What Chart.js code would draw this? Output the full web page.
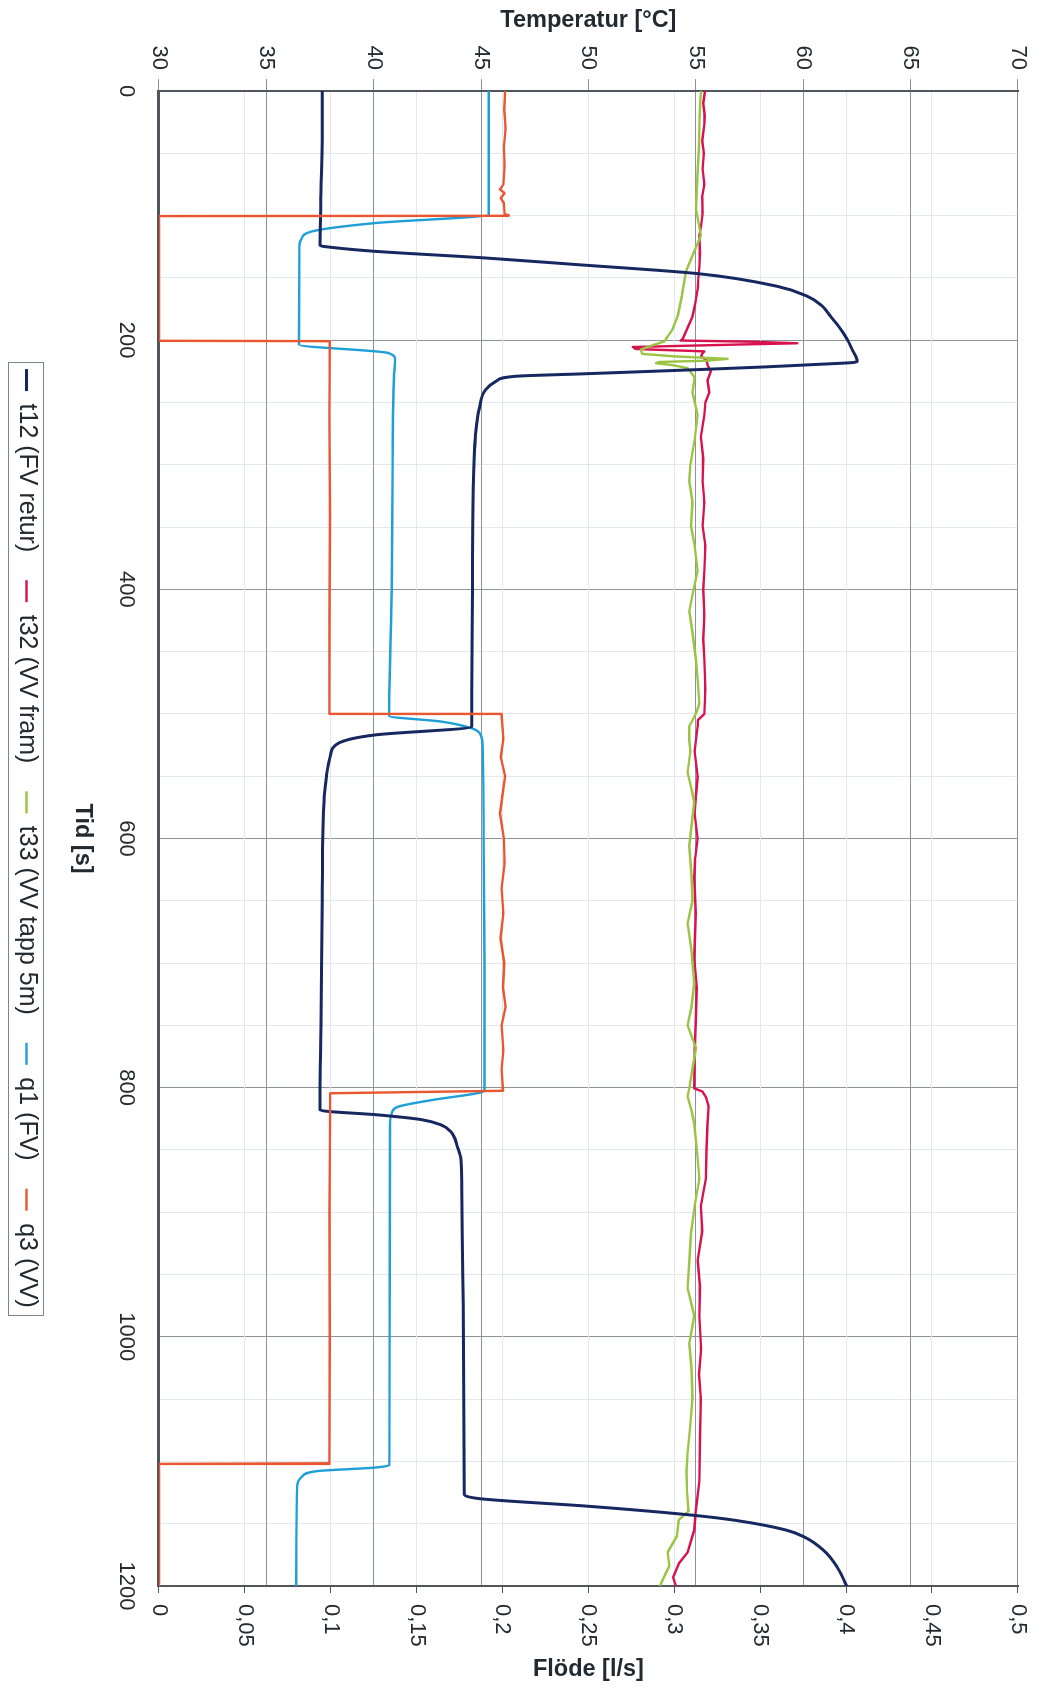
<!DOCTYPE html>
<html>
<head>
<meta charset="utf-8">
<title>Temperatur och flöde</title>
<script src="https://cdn.jsdelivr.net/npm/chart.js@4.4.1/dist/chart.umd.min.js"></script>
<style>
  html, body { margin: 0; padding: 0; background: #ffffff; overflow: hidden; }
  /* landscape chart turned a quarter turn clockwise onto the portrait page */
  #wrap {
    position: absolute; left: 0; top: 0;
    width: 1688px; height: 1042px;
    transform-origin: 0 0;
    transform: translateX(1042px) rotate(90deg);
  }
  canvas { display: block; }
</style>
</head>
<body>
<div id="wrap"><canvas id="c" width="1688" height="1042"></canvas></div>
<script>
// ---- axis ticks ----
const timeTickValues = [0, 200, 400, 600, 800, 1000, 1200];
const timeTickLabels = ['0', '200', '400', '600', '800', '1000', '1200'];
const minorTimeValues = [50, 100, 150, 250, 300, 350, 450, 500, 550, 650, 700, 750, 850, 900, 950, 1050, 1100, 1150];
const tempTickValues = [30, 35, 40, 45, 50, 55, 60, 65, 70];
const tempTickLabels = ['30', '35', '40', '45', '50', '55', '60', '65', '70'];
const flowTickValues = [0, 0.05, 0.1, 0.15, 0.2, 0.25, 0.3, 0.35, 0.4, 0.45, 0.5];
const flowTickLabels = ['0', '0,05', '0,1', '0,15', '0,2', '0,25', '0,3', '0,35', '0,4', '0,45', '0,5'];

const timeTitle = 'Tid [s]';
const tempTitle = 'Temperatur [°C]';
const flowTitle = 'Flöde [l/s]';

const seriesLabels = ['t12 (FV retur)', 't32 (VV fram)', 't33 (VV tapp 5m)', 'q1 (FV)', 'q3 (VV)'];

// ---- measured series: [tid s, värde] ----
// t12 FV retur, °C
const t12 = [[0,37.6],[40,37.6],[80,37.55],[124,37.5],[126,38.3],[128.7,40.07],[134,45.18],[139.4,49.5],
  [146.6,55.1],[156.8,58.8],[164.8,60.2],[172,60.85],[180.9,61.28],[190,61.7],[199.6,62.06],[208,62.3],
  [217,62.52],[218,62.3],[219.5,60.6],[221.5,58.2],[223.7,55.0],[227,49.8],[229,46.6],[233,45.7],
  [240,45.2],[255,44.92],[272,44.77],[312,44.65],[402,44.6],[483,44.57],[510.2,44.57],[516.9,40.05],
  [523.6,38.35],[534.3,37.97],[550,37.8],[566,37.7],[650,37.6],[750,37.55],[818,37.5],[822,40.3],
  [825.6,42.2],[830,43.15],[835.5,43.6],[847.5,43.9],[858,44.07],[880,44.1],[950,44.15],[1050,44.2],
  [1126.7,44.22],[1130,44.98],[1136,50.0],[1143.4,54.98],[1147.4,56.88],[1155,59.19],[1160.8,60.07],
  [1171.5,60.96],[1185,61.59],[1200,62.03]];

// t32 VV fram, °C
const t32 = [[0,55.43],[10,55.35],[20,55.42],[26.6,55.4],[40,55.3],[50,55.38],[62.5,55.32],[75,55.4],
  [85,55.3],[98.3,55.32],[108,55.25],[116,55.17],[130,55.2],[141,55.17],[150,55.12],[159,55.09],
  [170,54.98],[180.8,54.85],[190,54.62],[198.7,54.4],[200.3,54.3],[201.2,57.5],[202.5,59.73],
  [203.5,57.0],[205.5,52.07],[207.1,52.2],[209,55.4],[211,55.3],[213,55.25],[216,55.5],[220,55.55],
  [225,55.7],[232,55.55],[241.8,55.63],[250,55.45],[260,55.4],[277.5,55.24],[295,55.35],[313.5,55.32],
  [330,55.4],[349,55.32],[365,55.45],[385,55.4],[400,55.35],[421,55.4],[440,55.35],[456.6,55.4],
  [480,55.45],[500,55.4],[505,55.1],[510,55.09],[530,54.95],[550,55.09],[565,55.01],[580,54.95],
  [600,55.09],[615,54.98],[631,54.93],[660,55.0],[697,54.93],[720,55.05],[741,55.01],[770,54.95],
  [800.6,54.93],[803,55.3],[807.3,55.47],[815,55.6],[829,55.55],[850,55.5],[873,55.47],[895,55.24],
  [915,55.3],[939,55.09],[960,55.2],[983.5,55.17],[1010,55.25],[1030,55.15],[1049.6,55.24],
  [1080,55.2],[1115.7,55.17],[1140,55.0],[1155,54.93],[1173,54.62],[1182,54.21],[1193,53.95],[1200,54.07]];

// t33 VV tapp 5m, °C
const t33 = [[0,55.24],[13,55.2],[26.6,55.17],[45,55.15],[62.5,55.09],[80,55.05],[94.8,55.01],
  [105,55.12],[116,55.24],[130,54.9],[145,54.54],[165,54.35],[180.8,54.16],[192,53.9],[197,53.69],
  [201,53.54],[204,53.0],[207.6,52.44],[211,52.5],[213,54.0],[215,56.48],[216.5,55.5],[217.5,53.3],
  [218.5,53.15],[220,53.9],[222.4,54.62],[230,54.95],[242,54.85],[260,55.09],[280,54.95],[300,54.75],
  [313,54.7],[330,54.85],[349,54.78],[365,54.95],[385,55.09],[400,54.9],[417,54.7],[435,54.85],
  [457,55.01],[475,55.1],[492,55.17],[500,55.0],[510,54.7],[521,54.7],[530,54.75],[547,54.62],
  [560,54.8],[571,54.93],[590,54.8],[606,54.7],[630,54.8],[650,54.85],[668,54.62],[690,54.8],
  [716,54.93],[735,54.8],[750,54.62],[768,55.01],[785,54.85],[800,54.7],[807,54.62],[818,54.8],
  [829,54.93],[850,55.05],[873,55.17],[895,54.95],[917,54.78],[940,54.7],[961,54.62],[983,54.93],
  [1005,54.7],[1025,54.8],[1049,54.85],[1070,54.75],[1093,54.62],[1108,54.57],[1125,54.6],[1140,54.66],
  [1147,54.21],[1160,54.12],[1173,53.69],[1184,53.77],[1190,53.6],[1200,53.33]];

// q1 FV, l/s
const q1 = [[0,0.192],[99.2,0.192],[106,0.126],[112.6,0.0894],[119.3,0.0827],[125,0.0817],[203.6,0.0815],
  [210.3,0.1336],[215.7,0.1375],[230,0.1368],[300,0.136],[400,0.1355],[501.6,0.134],[506.2,0.1645],
  [511.5,0.182],[515.5,0.1868],[525,0.1884],[600,0.189],[700,0.1895],[802,0.1895],[804,0.1868],
  [810,0.1587],[815.4,0.139],[820.7,0.1355],[830,0.1345],[1000,0.1343],[1103,0.1341],[1105,0.1253],
  [1107.8,0.092],[1112.6,0.083],[1120.6,0.0804],[1200,0.0799]];

// q3 VV, l/s
const q3 = [[0,0.2015],[15,0.201],[30,0.2018],[45,0.2008],[60,0.2012],[75,0.2005],[79,0.1985],[82,0.2012],
  [86,0.199],[90,0.2008],[99,0.2012],[99.6,0.2035],[100.2,0.2025],[100.4,0],[200.5,0],[200.8,0.0995],
  [260,0.0992],[340,0.0996],[420,0.0993],[499.5,0.0992],[500,0.1994],[520,0.2005],[535,0.199],
  [550,0.2015],[565,0.2],[580,0.1985],[600,0.2008],[620,0.2012],[640,0.1995],[660,0.2005],[680,0.1988],
  [700,0.201],[720,0.2003],[735,0.2018],[750,0.1995],[770,0.2005],[785,0.1995],[802.5,0.2003],
  [804.5,0.0997],[850,0.0995],[900,0.0993],[1000,0.0994],[1101.5,0.0992],[1102,0],[1200,0]];

const seriesColors = ['#16285f', '#d8124f', '#9cc443', '#1f9fd8', '#ea5630'];

const FONT = "'Liberation Sans', Arial, sans-serif";
const TEXT = '#222a30';
const GRID = '#8c949b';
const FAINT = '#e2e8ee';
const AXIS = '#50565c';
const LEGEND_SIZE = 25;

const toXY = rows => rows.map(r => ({ x: r[0], y: r[1] }));
const setTicks = values => scale => { scale.ticks = values.map(v => ({ value: v })); };

// frame around the legend and the flow axis title (reads bottom-to-top like the temperature title)
const extras = {
  id: 'extras',
  afterDraw(chart) {
    const ctx = chart.ctx;
    const lg = chart.legend;
    if (lg && lg.legendHitBoxes && lg.legendHitBoxes.length) {
      const hb = lg.legendHitBoxes;
      const l = Math.min(...hb.map(h => h.left)) - 7;
      const r = Math.max(...hb.map(h => h.left + h.width)) + 7;
      const t = hb[0].top - 5;
      ctx.save();
      ctx.strokeStyle = '#7d8388';
      ctx.lineWidth = 1;
      ctx.strokeRect(Math.round(l) + 0.5, Math.round(t) + 0.5, Math.round(r - l), hb[0].height + 10);
      ctx.restore();
    }
    const a = chart.chartArea;
    const ys = chart.scales.y2;
    ctx.save();
    ctx.font = 'bold 23.5px ' + FONT;
    ctx.fillStyle = TEXT;
    ctx.textAlign = 'center';
    ctx.textBaseline = 'middle';
    ctx.translate(ys.right - 18, (a.top + a.bottom) / 2);
    ctx.rotate(-Math.PI / 2);
    ctx.fillText(flowTitle, 0, 0);
    ctx.restore();
  }
};

const mk = (i, rows, axis, width, order, smooth) => ({
  label: seriesLabels[i],
  data: toXY(rows),
  yAxisID: axis,
  borderColor: seriesColors[i],
  backgroundColor: seriesColors[i],
  borderWidth: width,
  order: order,
  fill: false,
  cubicInterpolationMode: smooth ? 'monotone' : 'default'
});

new Chart(document.getElementById('c'), {
  type: 'line',
  data: {
    datasets: [
      mk(0, t12, 'y', 3, 1, true),
      mk(1, t32, 'y', 2.4, 4, false),
      mk(2, t33, 'y', 2.4, 3, false),
      mk(3, q1, 'y2', 2.4, 2, true),
      mk(4, q3, 'y2', 2.4, 0, false)
    ]
  },
  options: {
    responsive: false,
    animation: false,
    devicePixelRatio: 1,
    events: [],
    elements: {
      point: { radius: 0 },
      line: { tension: 0, borderJoinStyle: 'round', borderCapStyle: 'round' }
    },
    layout: { padding: { left: 0, right: 0, top: 22, bottom: 4 } },
    plugins: {
      tooltip: { enabled: false },
      legend: {
        display: true,
        position: 'bottom',
        fullSize: false,
        align: 'center',
        labels: {
          usePointStyle: true,
          pointStyle: 'line',
          pointStyleWidth: 22,
          padding: 28,
          color: TEXT,
          font: { family: FONT, size: LEGEND_SIZE },
          sort: (a, b) => a.datasetIndex - b.datasetIndex
        }
      }
    },
    scales: {
      x: {
        type: 'linear',
        position: 'bottom',
        min: 0, max: 1200,
        afterBuildTicks: setTicks(timeTickValues),
        afterFit: s => { s.height = 92; },
        ticks: {
          callback: (v, i) => timeTickLabels[i],
          font: { family: FONT, size: 22 },
          color: TEXT,
          padding: 20,
          maxRotation: 0
        },
        grid: { color: GRID, lineWidth: 1, drawTicks: false },
        border: { color: AXIS, width: 3 },
        title: {
          display: true, text: timeTitle, color: TEXT,
          font: { family: FONT, size: 23.5, weight: 'bold' },
          padding: { top: 0, bottom: 1 }
        }
      },
      xMinor: {
        type: 'linear',
        position: 'bottom',
        min: 0, max: 1200,
        afterBuildTicks: setTicks(minorTimeValues),
        afterFit: s => { s.height = 0; },
        ticks: { display: false },
        grid: { color: FAINT, lineWidth: 1, drawTicks: false },
        border: { display: false }
      },
      y: {
        type: 'linear',
        position: 'left',
        min: 30, max: 70,
        afterBuildTicks: setTicks(tempTickValues),
        afterFit: s => { s.width = 91; },
        ticks: {
          callback: (v, i) => tempTickLabels[i],
          font: { family: FONT, size: 22 },
          color: TEXT,
          padding: 9
        },
        grid: { color: GRID, lineWidth: 1, tickLength: 12 },
        border: { color: AXIS, width: 2 },
        title: {
          display: true, text: tempTitle, color: TEXT,
          font: { family: FONT, size: 23.5, weight: 'bold' },
          padding: { top: 6, bottom: 0 }
        }
      },
      y2: {
        type: 'linear',
        position: 'right',
        min: 0, max: 0.5,
        afterBuildTicks: setTicks(flowTickValues),
        afterFit: s => { s.width = 102; },
        ticks: {
          callback: (v, i) => flowTickLabels[i],
          font: { family: FONT, size: 22 },
          color: TEXT,
          padding: 11
        },
        grid: {
          color: ctx => (ctx.tick && (ctx.tick.value === 0 || ctx.tick.value === 0.5)) ? 'rgba(0,0,0,0)' : FAINT,
          tickColor: AXIS,
          lineWidth: 1,
          tickLength: 7
        },
        border: { color: AXIS, width: 2 }
      }
    }
  },
  plugins: [extras]
});
</script>
</body>
</html>
